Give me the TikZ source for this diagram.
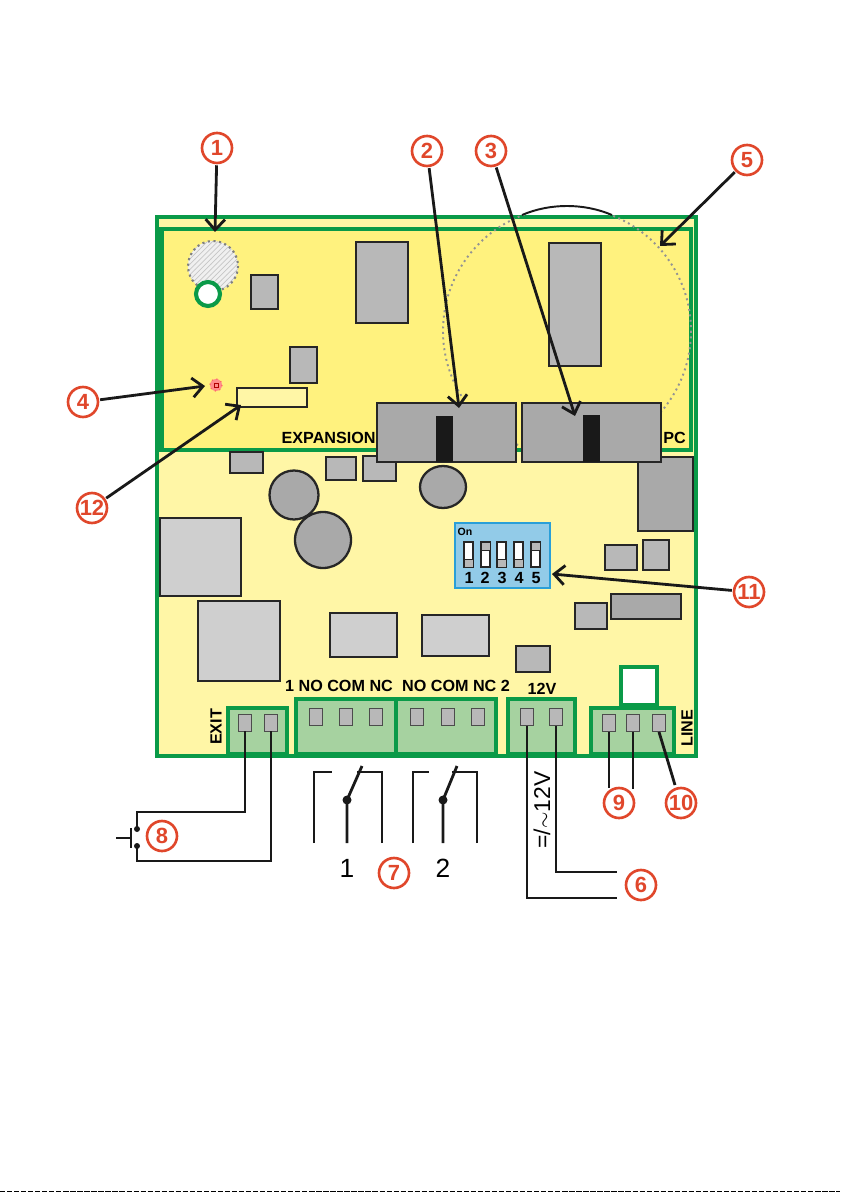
\documentclass[tikz,border=0pt]{standalone}
\usepackage{fontspec}
\setmainfont{Liberation Sans}
\usetikzlibrary{arrows.meta,patterns}
\definecolor{boardgreen}{HTML}{0A9A48}
\definecolor{termgreen}{HTML}{A6D2A0}
\definecolor{panelyellow}{HTML}{FFF27E}
\definecolor{paleyellow}{HTML}{FFF6A6}
\definecolor{calloutred}{HTML}{E0472B}
\definecolor{partgray}{HTML}{B8B8B8}
\definecolor{darkgray}{HTML}{A9A9A9}
\definecolor{lightgray}{HTML}{CFCFCF}
\definecolor{dipblue}{HTML}{92CBE8}
\definecolor{dipframe}{HTML}{2A9FD8}
\tikzset{
  part/.style={draw=black!85,line width=1pt,fill=partgray},
  bigpart/.style={draw=black!85,line width=1.3pt,fill=darkgray},
  frame/.style={draw=boardgreen,line width=2.3pt},
  termblock/.style={draw=boardgreen,line width=2.3pt,fill=termgreen},
  termpin/.style={draw=black!70,line width=.5pt,fill=partgray,minimum width=.26cm,minimum height=.34cm,inner sep=0},
  callout/.style={circle,draw=calloutred,line width=1.5pt,text=calloutred,minimum size=.6cm,inner sep=0,outer sep=1.3pt,font=\bfseries\fontsize{12.5}{14}\selectfont},
  pointer/.style={black!90,line width=1.6pt,-{Straight Barb[length=6pt,width=11pt,line width=1.6pt]}},
  wire/.style={black!90,line width=1.6pt},
  boardtext/.style={font=\bfseries\fontsize{9.2}{10}\selectfont,inner sep=0},
  switchbody/.style={draw=black!85,line width=1pt,fill=white},
  switchknob/.style={fill=partgray}
}
\begin{document}
\begin{tikzpicture}[x=.02cm,y=-.02cm]
  \useasboundingbox (0,0) rectangle (840,1192);

  \fill[paleyellow] (157,217) rectangle (696,756);
  \fill[panelyellow] (163,229) rectangle (691,450);
  \draw[frame] (157,217) rectangle (696,756);
  \draw[frame] (155,229) -- (691,229) -- (691,450) -- (155,450);
  \fill[boardgreen] (155,227) rectangle (164,452);

  \filldraw[fill=gray!12,draw=none] (213,266) circle (25);
  \fill[pattern=north east lines,pattern color=gray!45] (213,266) circle (25);
  \draw[gray,line width=1.2pt,dotted] (213,266) circle (25);
  \filldraw[fill=white,draw=boardgreen,line width=2.3pt] (208,294) circle (12);
  \filldraw[fill=red!45,draw=red!60,line width=.7pt,dotted] (216,385) circle (6);
  \draw[red!70!black,line width=.5pt] (214,383) rectangle (218,387);

  \begin{scope}
    \clip (0,215) rectangle (840,1192);
    \draw[gray!85,line width=1.1pt,dotted] (567,331) circle (124);
  \end{scope}
  \draw[black!90,line width=1.1pt] (522,215) .. controls (550,203) and (584,203) .. (612,215);

  \filldraw[part] (251,275) rectangle (278,309);
  \filldraw[part] (356,242) rectangle (408,323);
  \filldraw[part] (549,243) rectangle (601,366);
  \filldraw[part] (290,347) rectangle (317,383);
  \filldraw[draw=black!85,line width=1pt,fill=paleyellow] (237,388) rectangle (307,407);

  \filldraw[part] (230,452) rectangle (263,473);
  \filldraw[part] (326,457) rectangle (356,480);
  \filldraw[part] (363,456) rectangle (396,481);
  \filldraw[bigpart] (638,457) rectangle (693,531);
  \filldraw[bigpart] (294,495) circle (24.5);
  \filldraw[bigpart] (323,540) circle (28);
  \filldraw[bigpart] (443,487) ellipse (23 and 21);

  \filldraw[bigpart] (377,403) rectangle (516,462);
  \filldraw[bigpart] (522,403) rectangle (661,462);
  \fill[black!90] (436,416) rectangle (453,462);
  \fill[black!90] (583,415) rectangle (600,462);
  \node[boardtext,anchor=base east] (expansion) at (376,443) {EXPANSION};
  \node[boardtext,anchor=base west] (pclabel) at (663,443) {PC};

  \filldraw[part,fill=lightgray] (160,518) rectangle (241,596);
  \filldraw[part,fill=lightgray] (198,601) rectangle (280,681);
  \filldraw[part,fill=lightgray] (330,613) rectangle (397,657);
  \filldraw[part,fill=lightgray] (422,615) rectangle (489,656);
  \filldraw[part] (516,646) rectangle (550,672);
  \filldraw[part] (605,545) rectangle (637,570);
  \filldraw[part] (643,540) rectangle (669,570);
  \filldraw[part,fill=darkgray] (611,594) rectangle (681,619);
  \filldraw[part] (575,603) rectangle (607,629);

  \filldraw[fill=dipblue,draw=dipframe,line width=1.5pt] (455,523) rectangle (550,588);
  \node[font=\bfseries\fontsize{6}{7}\selectfont,inner sep=0] (dipon) at (465,532) {On};
  \filldraw[switchbody] (464,542) rectangle (473,567);
  \filldraw[switchbody] (481,542) rectangle (490,567);
  \filldraw[switchbody] (497,542) rectangle (506,567);
  \filldraw[switchbody] (514,542) rectangle (523,567);
  \filldraw[switchbody] (531,542) rectangle (540,567);
  \filldraw[switchknob,draw=black!85] (464,559) rectangle (473,567);
  \filldraw[switchknob,draw=black!85] (481,542) rectangle (490,550);
  \filldraw[switchknob,draw=black!85] (497,559) rectangle (506,567);
  \filldraw[switchknob,draw=black!85] (514,559) rectangle (523,567);
  \filldraw[switchknob,draw=black!85] (531,542) rectangle (540,550);
  \node[boardtext] (dipa) at (469,578) {1};
  \node[boardtext] (dipb) at (485,578) {2};
  \node[boardtext] (dipc) at (502,578) {3};
  \node[boardtext] (dipd) at (519,578) {4};
  \node[boardtext] (dipe) at (536,578) {5};

  \filldraw[draw=boardgreen,line width=2.3pt,fill=white] (621,667) rectangle (657,705);
  \filldraw[termblock] (228,708) rectangle (287,754);
  \filldraw[termblock] (296,699) rectangle (396,754);
  \filldraw[termblock] (396,699) rectangle (496,754);
  \filldraw[termblock] (508,699) rectangle (575,754);
  \filldraw[termblock] (591,708) rectangle (674,754);

  \node[termpin] (exitA) at (245,722.5) {};
  \node[termpin] (exitB) at (271,722.5) {};
  \node[termpin] (relayA) at (315.5,717) {};
  \node[termpin] (relayB) at (346,717) {};
  \node[termpin] (relayC) at (376,717) {};
  \node[termpin] (relayD) at (416.5,717) {};
  \node[termpin] (relayE) at (447.5,717) {};
  \node[termpin] (relayF) at (477.5,717) {};
  \node[termpin] (powerA) at (527,717) {};
  \node[termpin] (powerB) at (556,717) {};
  \node[termpin] (lineA) at (609,723) {};
  \node[termpin] (lineB) at (633,723) {};
  \node[termpin] (lineC) at (659,723) {};

  \node[boardtext] (relaytextA) at (339,686) {1 NO COM NC};
  \node[boardtext] (relaytextB) at (456,686) {NO COM NC 2};
  \node[boardtext] (powertext) at (542,689) {12V};
  \node[boardtext,rotate=90] (exittext) at (216,727) {EXIT};
  \node[boardtext,rotate=90] (linetext) at (687,728) {LINE};

  \node[callout] (nA) at (217,148) {1};
  \node[callout] (nB) at (427,151) {2};
  \node[callout] (nC) at (491,151) {3};
  \node[callout] (nD) at (83,402) {4};
  \node[callout] (nE) at (747,160) {5};
  \node[callout] (nF) at (641,885) {6};
  \node[callout] (nG) at (394,873) {7};
  \node[callout] (nH) at (162,836) {8};
  \node[callout] (nI) at (619,803) {9};
  \node[callout] (nJ) at (681,803) {10};
  \node[callout] (nK) at (749,592) {11};
  \node[callout] (nL) at (92,508) {12};

  \coordinate (tipA) at (215,232);
  \coordinate (tipB) at (459,408);
  \coordinate (tipC) at (575,416);
  \coordinate (tipD) at (205,386);
  \coordinate (tipE) at (660,246);
  \coordinate (tipK) at (552,574);
  \coordinate (tipL) at (241,405);
  \draw[pointer] (nA) -- (tipA);
  \draw[pointer] (nB) -- (tipB);
  \draw[pointer] (nC) -- (tipC);
  \draw[pointer] (nD) -- (tipD);
  \draw[pointer] (nE) -- (tipE);
  \draw[pointer] (nK) -- (tipK);
  \draw[pointer] (nL) -- (tipL);

  \coordinate (turnA) at (137,812);
  \coordinate (turnB) at (137,861);
  \coordinate (pressA) at (137,829);
  \coordinate (pressB) at (137,846);
  \coordinate (pushA) at (131,828);
  \coordinate (pushB) at (131,848);
  \coordinate (pushC) at (116,838);
  \coordinate (pushD) at (131,838);
  \draw[wire] (exitA.south) |- (turnA) -- (pressA);
  \draw[wire] (exitB.south) |- (turnB) -- (pressB);
  \fill[black!90] (pressA) circle (3);
  \fill[black!90] (pressB) circle (3);
  \draw[wire] (pushA) -- (pushB);
  \draw[wire,line width=1pt] (pushC) -- (pushD);

  \coordinate (endG) at (617,872);
  \coordinate (endH) at (617,898);
  \draw[wire] (powerA.south) |- (endH);
  \draw[wire] (powerB.south) |- (endG);
  \node[font=\fontsize{13}{15}\selectfont,rotate=90,inner sep=0] (voltage) at (542,810) {=/$\sim$12V};

  \coordinate (endI) at (609,788);
  \coordinate (endJ) at (633,789);
  \coordinate (endK) at (675,785);
  \draw[wire] (lineA.south) -- (endI);
  \draw[wire] (lineB.south) -- (endJ);
  \draw[wire] (lineC.south) -- (endK);

  \draw[wire] (314,843) -- (314,772) -- (332,772);
  \draw[wire] (347,843) -- (347,800) -- (362,766);
  \draw[wire] (382,843) -- (382,772) -- (357,772);
  \fill[black!90] (347,800) circle (4.5);
  \draw[wire] (413,843) -- (413,772) -- (429,772);
  \draw[wire] (443,843) -- (443,800) -- (457,766);
  \draw[wire] (477,843) -- (477,772) -- (452,772);
  \fill[black!90] (443,800) circle (4.5);
  \node[font=\fontsize{15}{16}\selectfont,inner sep=0] (relayoneno) at (347,868) {1};
  \node[font=\fontsize{15}{16}\selectfont,inner sep=0] (relaytwono) at (443,868) {2};

  \draw[black,line width=.8pt,dash pattern=on 3pt off 1pt] (0,1191.5) -- (840,1191.5);
\end{tikzpicture}
\end{document}
